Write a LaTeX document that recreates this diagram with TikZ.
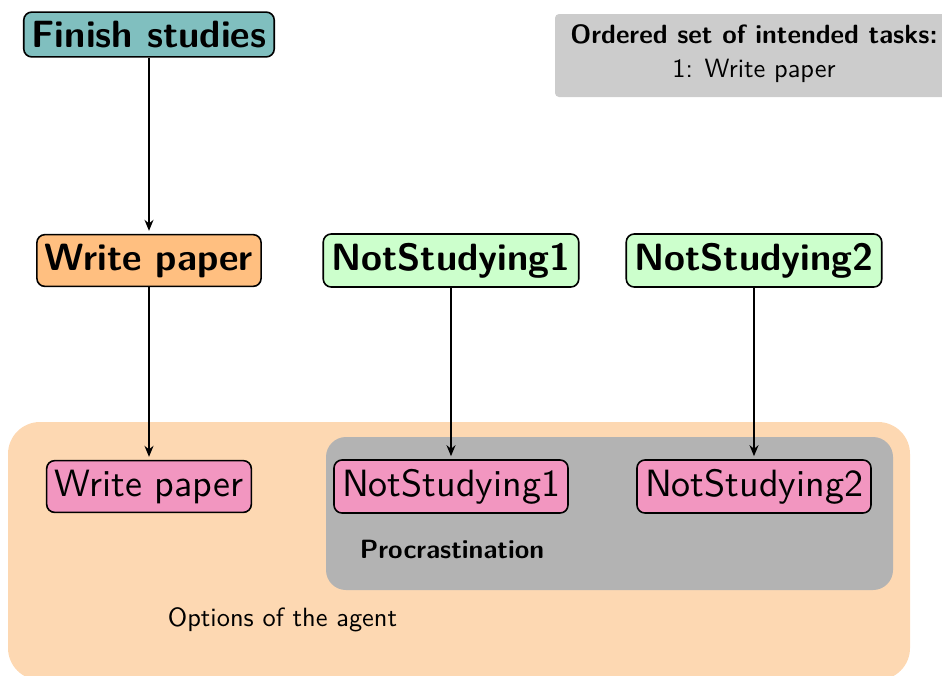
\documentclass[tikz,border=0pt]{standalone}
\usepackage{fontspec}
\setsansfont{lmsans10-regular}[Extension=.otf, BoldFont=lmsans10-bold]
\usetikzlibrary{arrows.meta}
\definecolor{goalfill}{RGB}{128,191,191}
\definecolor{planfill}{RGB}{255,191,128}
\definecolor{idlefill}{RGB}{204,255,204}
\definecolor{optfill}{RGB}{242,150,192}
\definecolor{agentfill}{RGB}{253,216,178}
\definecolor{procfill}{RGB}{179,179,179}
\definecolor{taskfill}{RGB}{204,204,204}
\newcommand{\bigfont}{\fontsize{38}{46}\selectfont}
\newcommand{\smallfont}{\fontsize{26.4}{32}\selectfont}
\tikzset{
  taskbox/.style={draw=black, line width=1.6pt, rounded corners=8pt,
    inner xsep=8pt, inner ysep=9pt, font=\sffamily\bfseries\bigfont},
  optbox/.style={draw=black, line width=1.6pt, rounded corners=8pt, fill=optfill,
    inner xsep=8pt, inner ysep=9pt, font=\sffamily\bigfont},
  link/.style={line width=1.6pt, -{Stealth[length=11pt,width=9pt]}, shorten >=3pt},
  label/.style={font=\sffamily\smallfont, inner sep=0pt}
}
\begin{document}
\begin{tikzpicture}[x=1pt,y=-1pt]
\useasboundingbox (0,0) rectangle (942,675);
\clip (0,0) rectangle (942,675);

% option groups
\fill[agentfill, rounded corners=32pt] (8,422) rectangle (910,680);
\fill[procfill, rounded corners=20pt] (326,437) rectangle (893,590);
\node[label, font=\sffamily\bfseries\smallfont] (proc) at (452,549) {Procrastination};
\node[label] (agent) at (282.5,620) {Options of the agent};

% task list
\fill[taskfill, rounded corners=4pt] (555,14) rectangle (953,97);
\node[label, align=center, font=\sffamily\smallfont] (tasks) at (754,54)
  {\textbf{Ordered set of intended tasks:}\\[2pt] 1: Write paper};

% goal and intentions
\node[taskbox, fill=goalfill] (goal) at (149,34.5) {Finish studies};
\node[taskbox, fill=planfill] (wp) at (149,260.5) {Write paper};
\node[taskbox, fill=idlefill] (ns1) at (451,260.5) {NotStudying1};
\node[taskbox, fill=idlefill] (ns2) at (754,260.5) {NotStudying2};

% options
\node[optbox] (owp) at (149,486.5) {Write paper};
\node[optbox] (ons1) at (451,486.5) {NotStudying1};
\node[optbox] (ons2) at (754,486.5) {NotStudying2};

\draw[link] (goal) -- (wp);
\draw[link] (wp) -- (owp);
\draw[link] (ns1) -- (ons1);
\draw[link] (ns2) -- (ons2);
\end{tikzpicture}
\end{document}
